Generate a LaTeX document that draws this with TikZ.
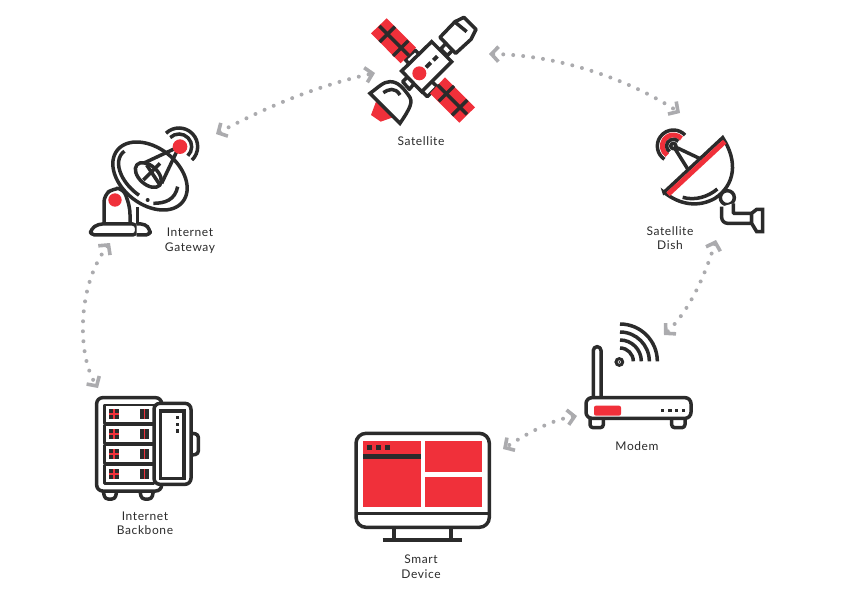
\documentclass[tikz,border=0pt]{standalone}
\usepackage{fontspec}
\setmainfont[LetterSpace=5]{Lato}
\usetikzlibrary{arrows.meta}
\definecolor{iconred}{HTML}{F0303A}
\definecolor{iconblack}{HTML}{2B2B2B}
\definecolor{linkgrey}{HTML}{ABABAE}
\tikzset{
  icon/.style={draw=iconblack, line width=3.5pt, line join=round, fill=white},
  iconline/.style={draw=iconblack, line width=3.5pt},
  redpart/.style={fill=iconred, draw=none},
  label/.style={font=\fontsize{12}{14.5}\selectfont, text=iconblack, align=center, inner sep=0pt},
  link/.style={draw=linkgrey, line width=4pt, line cap=round, dash pattern=on 0pt off 10pt,
    arrows={Straight Barb[length=7pt,width=15pt,line width=3.6pt]-Straight Barb[length=7pt,width=15pt,line width=3.6pt]}}
}
\begin{document}
\begin{tikzpicture}[x=1pt, y=-1pt]
\useasboundingbox (0,0) rectangle (843,596);

% satellite
\begin{scope}[shift={(340,0)}, scale=1/3]
  \fill[iconred] (108,305) -- (93,345) -- (122,365) -- (165,350) -- cycle;
  \draw[icon] (195,178) -- (225,150) -- (245,170) -- (215,200) -- cycle;
  \draw[icon] (270,240) -- (240,268) -- (262,290) -- (292,260) -- cycle;
  \draw[redpart] (140,55) -- (228,143) -- (182,190) -- (93,100) -- cycle;
  \draw[redpart] (315,232) -- (405,322) -- (358,368) -- (270,280) -- cycle;
  \foreach \a/\b in {118/78, 293/255} \draw[iconline] (\a,\b) -- ++(88,88);
  \foreach \a/\b in {165/80, 205/122, 342/258, 382/300} \draw[iconline] (\a,\b) -- ++(-46,46);
  \draw[icon] (188,245) -- (205,228) -- (225,248) -- (208,268) -- cycle;
  \draw[icon] (302,147) -- (318,130) -- (338,150) -- (322,167) -- cycle;
  \draw[icon, line join=miter] (275,125) -- (335,185) -- (245,275) -- (185,213) -- cycle;
  \fill[iconred] (238,220) circle (21);
  \draw[iconblack, line width=4pt] (258,202) -- (272,188) (280,181) -- (292,169);
  \draw[icon] (300,112) -- (345,65) -- (372,52) -- (408,88) -- (393,118) -- (347,160) -- cycle;
  \draw[iconline] (347,68) -- (380,95);
  \draw[icon, line join=miter] (90,280) .. controls (115,262) and (130,245) .. (150,245)
    .. controls (175,245) and (190,265) .. (205,285)
    .. controls (222,305) and (210,325) .. (180,370) -- cycle;
  \draw[iconline] (130,278) .. controls (145,268) and (165,260) .. (180,285);
\end{scope}
\node[label] (satellite) at (421,141) {Satellite};

% internet gateway
\begin{scope}[shift={(80,120)}, scale=1/3]
  \draw[icon, rounded corners=7pt] (72,312) -- (72,225) -- (100,205) -- (130,205) -- (150,262) -- (150,312);
  \fill[iconred] (105,240) circle (20);
  \draw[iconline] (172,262) -- (172,312);
  \draw[icon, rounded corners=4pt] (170,345) -- (170,312) -- (55,312) -- (32,328) -- (32,345) -- cycle;
  \draw[icon, rounded corners=4pt] (170,312) -- (195,312) -- (210,328) -- (210,345) -- (170,345);
  \draw[icon, rotate around={-38:(210,168)}] (210,168) ellipse (125 and 85);
  \draw[iconline, rotate around={-38:(210,168)}] (210,168) ++(190:108 and 66) arc (190:85:108 and 66);
  \draw[icon, rotate around={-42:(205,165)}] (205,165) ellipse (46 and 28);
  \draw[iconline] (190,130) -- (297,80) -- (245,190);
  \draw[iconline] (190,180) -- (240,130) (200,135) -- (240,195);
  \fill[iconred] (300,80) circle (22);
  \foreach \r in {38,56} \draw[iconline] (297,80) ++(-134:\r) arc (-134:46:\r);
  \draw[iconline] (220,250) .. controls (255,250) and (285,240) .. (293,200);
  \fill[iconblack] (203,240) circle (6);
\end{scope}
\node[label] (gateway) at (190,240.5) {Internet\\Gateway};

% satellite dish
\begin{scope}[shift={(640,115)}, scale=1/3]
  \draw[iconline] (100,93) ++(124:48) arc (124:317:48);
  \draw[iconred, line width=5pt] (100,93) ++(124:33) arc (124:317:33);
  \draw[iconline] (100,93) ++(124:20) arc (124:317:20);
  \draw[iconline] (100,93) -- (145,165) (100,93) -- (178,130);
  \draw[icon] (100,93) circle (8);
  \draw[icon] (262,248) circle (21);
  \draw[icon] (280,265) -- (280,295) -- (335,295) -- (335,325) -- (262,325)
    [rounded corners=6pt] -- (245,325) -- (245,275);
  \draw[icon, line join=miter] (335,295) -- (350,283) -- (368,283) -- (368,350) -- (350,350) -- (335,325) -- cycle;
  \draw[icon, line join=miter] (72,232) -- (248,68) .. controls (295,140) and (285,210) .. (225,250)
    .. controls (175,278) and (120,270) .. cycle;
  \draw[iconred, line width=5pt] (84,238) -- (254,80);
  \draw[iconline] (128,247) .. controls (165,258) and (205,245) .. (232,222);
\end{scope}
\node[label] (dish) at (670,238) {Satellite\\Dish};

% modem
\begin{scope}[shift={(575,315)}, scale=1/3]
  \draw[icon, rounded corners=3.8pt] (55,250) -- (55,95) -- (78,95) -- (78,250);
  \foreach \a in {45,290} \draw[icon, rounded corners=3pt] (\a,312) -- (\a,338) -- (\a+40,338) -- (\a+40,312);
  \draw[icon, rounded corners=6pt] (33,248) rectangle (348,310);
  \fill[iconred, rounded corners=2pt] (57,272) rectangle (138,302);
  \foreach \a in {262,285,305,325} \fill[iconblack] (\a-5,282) rectangle (\a+5,292);
  \foreach \r in {40,64,88,112} \draw[iconline] (135,139) ++(-90:\r) arc (-90:0:\r);
  \draw[iconblack, line width=3pt] (133,141) circle (10);
  \fill[iconblack] (133,141) circle (3);
\end{scope}
\node[label] (modem) at (637,446) {Modem};

% smart device
\begin{scope}[shift={(345,425)}, scale=1/3]
  \fill[iconred] (55,48) rectangle (227,245);
  \fill[iconred] (240,48) rectangle (411,140);
  \fill[iconred] (240,155) rectangle (411,245);
  \fill[iconblack] (55,88) rectangle (227,101);
  \foreach \a in {73,100,127} \fill[iconblack] (\a-7,61) rectangle (\a+7,75);
  \draw[icon, fill=none, rounded corners=10pt] (33,25) rectangle (433,307);
  \draw[iconline] (33,265) -- (433,265);
  \draw[iconline] (147,307) -- (147,345) (318,307) -- (318,345);
  \draw[iconline] (113,345) -- (352,345);
\end{scope}
\node[label] (device) at (421,566.5) {Smart\\Device};

% internet backbone
\begin{scope}[shift={(85,385)}, scale=1/3]
  \foreach \a in {55,165} \draw[icon, rounded corners=3pt] (\a,320) -- (\a+5,342) -- (\a+35,342) -- (\a+40,320);
  \draw[icon, rounded corners=6pt] (35,38) rectangle (230,318);
  \foreach \b in {60,120,180,240} {
    \draw[icon, line width=2.8pt] (58,\b) rectangle (207,\b+55);
    \fill[iconblack] (72,\b+12) rectangle (103,\b+43);
    \fill[iconblack] (165,\b+12) rectangle (192,\b+43);
    \fill[iconred] (72,\b+25) rectangle (103,\b+30);
    \fill[iconred] (85,\b+12) rectangle (90,\b+43);
    \fill[iconred] (176,\b+12) rectangle (181,\b+43);
  }
  \draw[icon, rounded corners=3pt] (322,145) -- (340,148) -- (340,207) -- (322,210);
  \draw[icon, rounded corners=6pt] (207,55) rectangle (318,298);
  \draw[icon, line join=miter] (227,78) rectangle (297,280);
  \foreach \b in {98,118,138} \fill[iconblack] (273,\b-5) rectangle (283,\b+5);
\end{scope}
\node[label] (backbone) at (145,523) {Internet\\Backbone};

% end points of the links
\coordinate (gatewayA) at (216,134);
\coordinate (satelliteA) at (375,73);
\coordinate (satelliteB) at (489,54);
\coordinate (dishA) at (680,113);
\coordinate (dishB) at (716,240);
\coordinate (modemA) at (664,335);
\coordinate (modemB) at (577,416);
\coordinate (deviceA) at (503,449);
\coordinate (gatewayB) at (110,243);
\coordinate (backboneA) at (98,388);

\draw[link] (gatewayA) .. controls (270,105) and (320,85) .. (satelliteA);
\draw[link] (satelliteB) .. controls (560,55) and (630,80) .. (dishA);
\draw[link] (dishB) .. controls (705,275) and (690,310) .. (modemA);
\draw[link] (modemB) .. controls (550,420) and (525,435) .. (deviceA);
\draw[link] (gatewayB) .. controls (77,285) and (77,355) .. (backboneA);
\end{tikzpicture}
\end{document}
